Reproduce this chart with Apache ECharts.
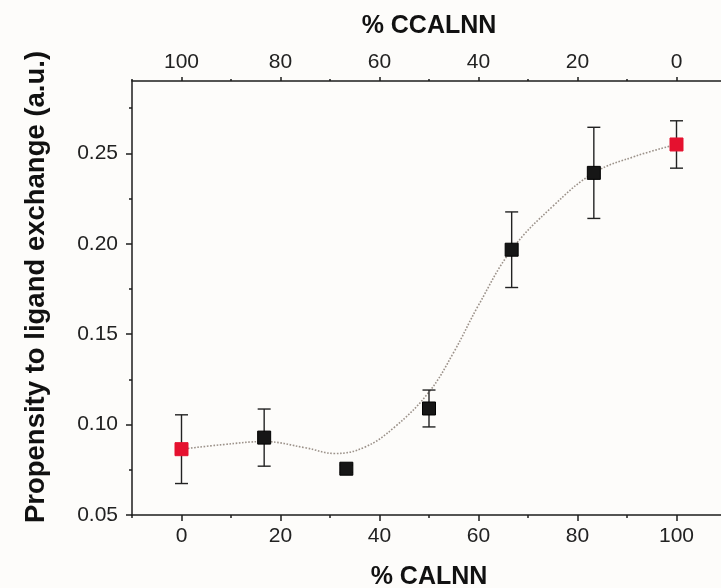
<!DOCTYPE html>
<html>
<head>
<meta charset="utf-8">
<script src="https://cdn.jsdelivr.net/npm/echarts@6/dist/echarts.min.js"></script>
<style>
  html, body { margin: 0; padding: 0; background: #fdfcfa; }
  #main { width: 721px; height: 588px; }
</style>
</head>
<body>
<div id="main"></div>
<script>
// % CALNN of each sample, measured propensity and its error
var calnn = [0, 16.7, 33.3, 50, 66.7, 83.3, 100];
var propensity = [0.0864, 0.0928, 0.0756, 0.1089, 0.1967, 0.2392, 0.2549];
var errors = [0.019, 0.0158, 0.002, 0.0102, 0.0209, 0.0252, 0.0131];

// guide curve drawn through the data
var curveX = [0, 8.3, 16.7, 25, 31, 37, 43, 50, 55, 60, 66.7, 75, 83.3, 91.7, 100];
var curveY = [0.0864, 0.0889, 0.0906, 0.0872, 0.0840, 0.0875, 0.0985, 0.118, 0.140, 0.166, 0.1967, 0.2207, 0.2392, 0.2484, 0.2549];

var bottomTicks = [0, 20, 40, 60, 80, 100];
var topTicks = [100, 80, 60, 40, 20, 0];
var minorX = [-10, 10, 30, 50, 70, 90, 110];
var yTicks = [0.05, 0.10, 0.15, 0.20, 0.25];
var minorY = [0.075, 0.125, 0.175, 0.225, 0.275];

var font = 'Liberation Sans, Arial, sans-serif';
var ink = '#1c1c1c';

var points = [];
var bars = [];
for (var i = 0; i < calnn.length; i++) {
    var pure = (calnn[i] === 0 || calnn[i] === 100);
    points.push({
        value: [calnn[i], propensity[i]],
        itemStyle: { color: pure ? '#e5112f' : '#161616', borderColor: pure ? '#e5112f' : '#000', borderWidth: 1, opacity: 1 }
    });
    bars.push([calnn[i], propensity[i] - errors[i], propensity[i] + errors[i]]);
}
var curve = [];
for (var j = 0; j < curveX.length; j++) curve.push([curveX[j], curveY[j]]);

var myChart = echarts.init(document.getElementById('main'));

var grid = { left: 132, top: 81, width: 594, height: 434, outerBoundsMode: 'none', containLabel: false };

var option = {
    backgroundColor: '#fdfcfa',
    animation: false,
    grid: [grid, grid],
    xAxis: [{
        type: 'value', gridIndex: 0, position: 'bottom', min: -10, max: 110,
        name: '% CALNN', nameLocation: 'middle', nameGap: 50,
        nameTextStyle: { fontFamily: font, fontSize: 25, fontWeight: 'bold', color: '#111' },
        axisLine: { onZero: false, lineStyle: { color: ink, width: 1.5 } },
        axisTick: { customValues: bottomTicks, length: 6, lineStyle: { color: ink, width: 1.5 } },
        axisLabel: { customValues: bottomTicks, margin: 11, fontFamily: font, fontSize: 21, color: '#222' },
        splitLine: { show: false }
    }, {
        type: 'value', gridIndex: 0, position: 'top', min: -10, max: 110, inverse: true,
        name: '% CCALNN', nameLocation: 'middle', nameGap: 42,
        nameTextStyle: { fontFamily: font, fontSize: 25, fontWeight: 'bold', color: '#111' },
        axisLine: { onZero: false, lineStyle: { color: ink, width: 1.5 } },
        axisTick: { customValues: topTicks, length: 4, lineStyle: { color: ink, width: 1.5 } },
        axisLabel: { customValues: topTicks, margin: 8, fontFamily: font, fontSize: 21, color: '#222' },
        splitLine: { show: false }
    }, {
        type: 'value', gridIndex: 1, position: 'bottom', min: -10, max: 110,
        axisLine: { show: false, onZero: false },
        axisTick: { customValues: minorX, length: 3, lineStyle: { color: ink, width: 1.5 } },
        axisLabel: { show: false }, splitLine: { show: false }
    }, {
        type: 'value', gridIndex: 1, position: 'top', min: -10, max: 110, inverse: true,
        axisLine: { show: false, onZero: false },
        axisTick: { customValues: minorX, length: 2, lineStyle: { color: ink, width: 1.5 } },
        axisLabel: { show: false }, splitLine: { show: false }
    }],
    yAxis: [{
        type: 'value', gridIndex: 0, position: 'left', min: 0.05, max: 0.29,
        name: 'Propensity to ligand exchange (a.u.)', nameLocation: 'middle', nameGap: 82,
        nameTextStyle: { fontFamily: font, fontSize: 27.5, fontWeight: 'bold', color: '#111', padding: [0, 0, 0, 22] },
        axisLine: { onZero: false, lineStyle: { color: ink, width: 1.5 } },
        axisTick: { customValues: yTicks, length: 6, lineStyle: { color: ink, width: 1.5 } },
        axisLabel: {
            customValues: yTicks, margin: 14, fontFamily: font, fontSize: 21, color: '#222',
            formatter: function (v) { return v.toFixed(2); }
        },
        splitLine: { show: false }
    }, {
        type: 'value', gridIndex: 1, position: 'left', min: 0.05, max: 0.29,
        axisLine: { show: false, onZero: false },
        axisTick: { customValues: minorY, length: 3, lineStyle: { color: ink, width: 1.5 } },
        axisLabel: { show: false }, splitLine: { show: false }
    }],
    series: [{
        type: 'line',
        xAxisIndex: 0, yAxisIndex: 0,
        data: curve,
        smooth: 0.4,
        smoothConstraint: false,
        showSymbol: false,
        lineStyle: { color: '#9c928a', width: 1.6, type: 'dotted' },
        z: 1
    }, {
        type: 'custom',
        xAxisIndex: 0, yAxisIndex: 0,
        data: bars,
        renderItem: function (params, api) {
            var x = api.value(0);
            var lo = api.coord([x, api.value(1)]);
            var hi = api.coord([x, api.value(2)]);
            var half = 6.5;
            var style = { stroke: '#222', lineWidth: 1.4 };
            return {
                type: 'group',
                children: [
                    { type: 'line', shape: { x1: lo[0], y1: lo[1], x2: hi[0], y2: hi[1] }, style: style },
                    { type: 'line', shape: { x1: lo[0] - half, y1: lo[1], x2: lo[0] + half, y2: lo[1] }, style: style },
                    { type: 'line', shape: { x1: hi[0] - half, y1: hi[1], x2: hi[0] + half, y2: hi[1] }, style: style }
                ]
            };
        },
        z: 2
    }, {
        type: 'scatter',
        xAxisIndex: 0, yAxisIndex: 0,
        data: points,
        symbol: 'rect',
        symbolSize: 13,
        z: 3
    }]
};
myChart.setOption(option);
</script>
</body>
</html>
